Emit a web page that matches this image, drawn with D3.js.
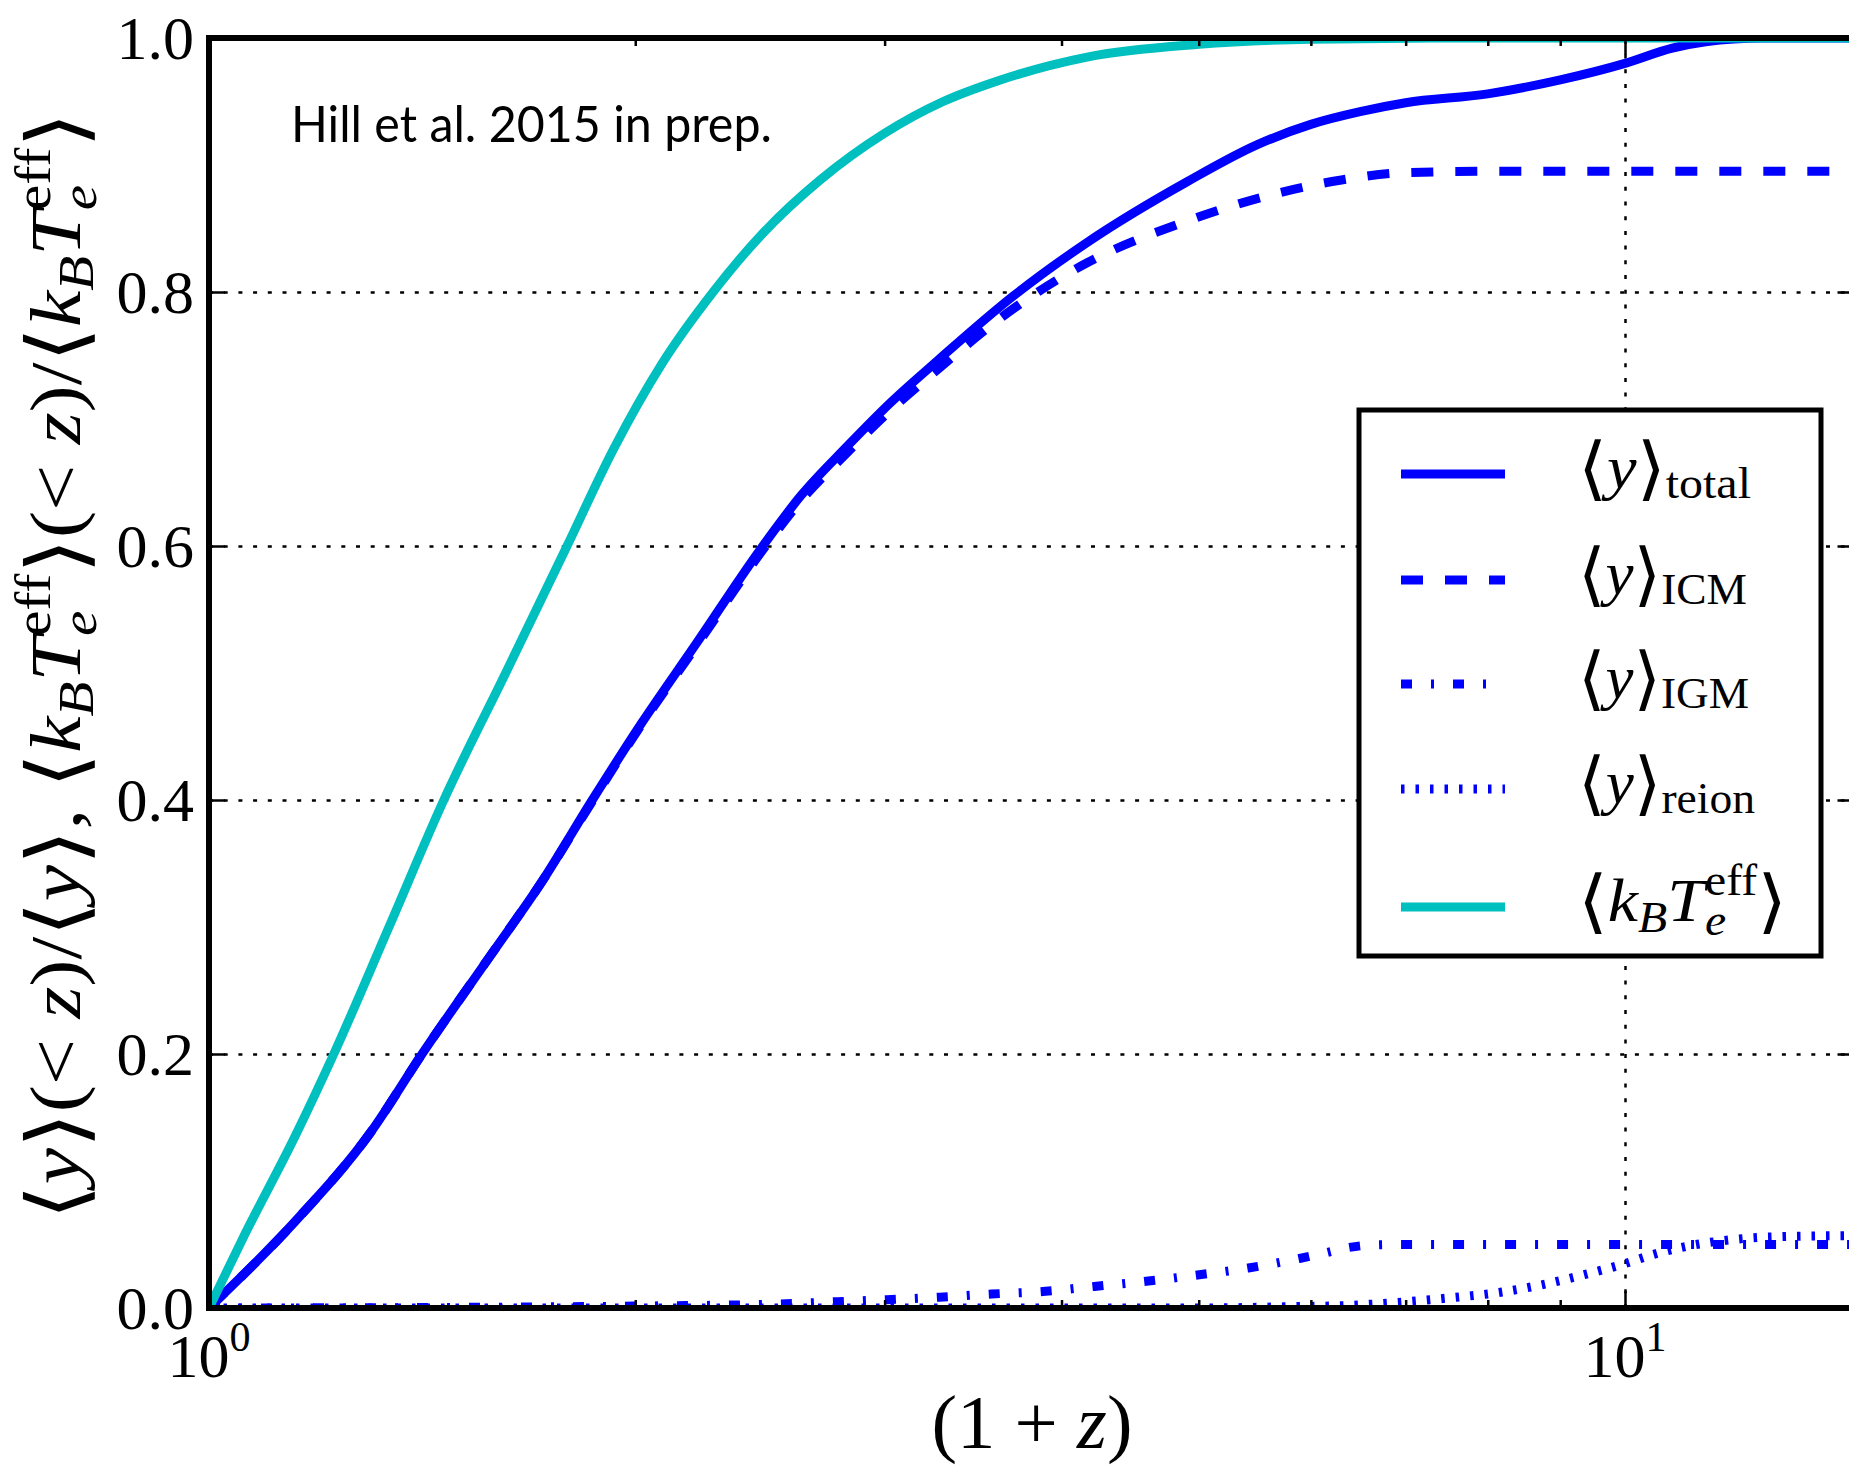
<!DOCTYPE html>
<html>
<head>
<meta charset="utf-8">
<script src="https://cdn.jsdelivr.net/npm/d3@7"></script>
<style>
  body { margin: 0; background: #fff; }
  svg { display: block; }
</style>
</head>
<body>
<script>
// curves, as [1+z, cumulative fraction]
const kTeff = [[1, 0], [1.06, 0.058], [1.15, 0.135], [1.225, 0.2], [1.34, 0.3], [1.465, 0.4],
  [1.62, 0.5], [1.79, 0.6], [1.93, 0.676], [2.09, 0.744], [2.27, 0.8], [2.46, 0.846], [2.7, 0.888],
  [3.0, 0.925], [3.3, 0.95], [3.6, 0.966], [4.17, 0.985], [5.0, 0.995], [6.0, 0.999], [7.5, 1.0], [14.5, 1.0]];
const yTotal = [[1, 0], [1.15, 0.068], [1.3, 0.138], [1.414, 0.2], [1.577, 0.276], [1.719, 0.336],
  [1.865, 0.4], [2.022, 0.461], [2.208, 0.523], [2.45, 0.597], [2.62, 0.64], [2.82, 0.678], [3.03, 0.713],
  [3.27, 0.746], [3.7, 0.797], [4.17, 0.839], [4.91, 0.887], [5.5, 0.916], [6.0, 0.932], [6.5, 0.942],
  [7.0, 0.949], [8.0, 0.956], [9.0, 0.967], [10, 0.98], [10.8, 0.992], [11.4, 0.997], [12.5, 1.0], [14.5, 1.0]];
const yICM = [[1, 0], [1.15, 0.068], [1.3, 0.138], [1.414, 0.2], [1.577, 0.276], [1.719, 0.336],
  [1.865, 0.399], [2.022, 0.46], [2.208, 0.521], [2.45, 0.594], [2.62, 0.636], [2.82, 0.673], [3.03, 0.707],
  [3.27, 0.739], [3.7, 0.787], [4.17, 0.823], [4.91, 0.856], [5.6, 0.876], [6.29, 0.888], [7.0, 0.894],
  [8.0, 0.895], [14.5, 0.895]];
const yIGM = [[1, 0], [1.5, 0.0005], [2.0, 0.0015], [2.5, 0.003], [2.78, 0.005], [3.01, 0.0065],
  [3.28, 0.0085], [3.57, 0.011], [3.88, 0.013], [4.22, 0.017], [4.59, 0.021], [4.99, 0.026],
  [5.42, 0.0315], [5.89, 0.039], [6.12, 0.043], [6.37, 0.0475], [6.6, 0.0495], [7.0, 0.05], [14.5, 0.05]];
const yReion = [[1, 0], [5.0, 0], [5.8, 0.001], [6.37, 0.002], [7.02, 0.005], [7.52, 0.008],
  [8.12, 0.012], [8.71, 0.018], [9.34, 0.026], [10, 0.035], [10.46, 0.042], [10.99, 0.048],
  [11.72, 0.053], [12.71, 0.056], [14.5, 0.057]];

const yTicks = [0, 0.2, 0.4, 0.6, 0.8, 1.0];
const xMajorTicks = [1, 10];
const xMinorTicks = [2, 3, 4, 5, 6, 7, 8, 9];
const xMax = 14.5;
const legendSubs = ["total", "ICM", "IGM", "reion"];
const note = "Hill et al. 2015 in prep.";

// --- layout ---
const W = 1849, H = 1468;
const plotLeft = 209, plotTop = 38, plotH = 1270, decade = 1416;
const plotRight = plotLeft + decade * Math.log10(xMax);
const plotBottom = plotTop + plotH;
const SERIF = "'Liberation Serif', 'Times New Roman', serif";
const BR = "'DejaVu Sans', sans-serif"; // has the angle brackets
const BLUE = "#0000ff", CYAN = "#00bfbf";

const x = d3.scaleLog().domain([1, xMax]).range([plotLeft, plotRight]);
const y = d3.scaleLinear().domain([0, 1]).range([plotBottom, plotTop]);

const svg = d3.select("body").append("svg").attr("width", W).attr("height", H);
svg.append("rect").attr("width", W).attr("height", H).attr("fill", "#fff");

// writes math-ish text as tspans; sh = baseline shift in em (down +), s = size factor
function mathText(text, parts, base) {
  let cur = 0;
  parts.forEach((p) => {
    const sh = (p.sh || 0) * base;
    const t = text.append("tspan").text(p.t)
      .attr("font-size", base * (p.s || 1))
      .attr("dy", sh - cur);
    if (p.i) t.attr("font-style", "italic");
    if (p.br) t.attr("font-family", BR);
    if (p.dx) t.attr("dx", p.dx * base);
    cur = sh;
  });
}
const LB = { t: "\u27e8", br: 1, s: 1.12, sh: 0.06 };
const RB = { t: "\u27e9", br: 1, s: 1.12, sh: 0.06 };
const kbt = [
  LB, { t: "k", i: 1 }, { t: "B", i: 1, s: 0.7, sh: 0.18 },
  { t: "T", i: 1 }, { t: "e", i: 1, s: 0.7, sh: 0.22 }, { t: "eff", s: 0.7, sh: -0.42, dx: -0.31 },
  RB,
];
const yb = [LB, { t: "y", i: 1 }, RB];

// --- grid ---
const gridStyle = (g) => {
  g.select(".domain").remove();
  g.selectAll("line").attr("stroke", "#000").attr("stroke-width", 2.5).attr("stroke-dasharray", "4 10.7");
};
svg.append("g").attr("transform", `translate(${plotLeft},0)`)
  .call(d3.axisLeft(y).tickValues(yTicks.slice(1, -1)).tickSize(-(plotRight - plotLeft)).tickFormat(""))
  .call(gridStyle);
svg.append("g").attr("transform", `translate(0,${plotBottom})`)
  .call(d3.axisBottom(x).tickValues(xMajorTicks.slice(1)).tickSize(-plotH).tickFormat(""))
  .call(gridStyle);

// --- curves ---
svg.append("clipPath").attr("id", "plot")
  .append("rect").attr("x", plotLeft).attr("y", plotTop).attr("width", plotRight - plotLeft).attr("height", plotH);
const line = d3.line().x((d) => x(d[0])).y((d) => y(d[1])).curve(d3.curveMonotoneX);
const series = [
  { data: yTotal, color: BLUE, dash: null },
  { data: yICM, color: BLUE, dash: "22 22" },
  { data: yIGM, color: BLUE, dash: "11 19 3 19" },
  { data: yReion, color: BLUE, dash: "3.5 11" },
  { data: kTeff, color: CYAN, dash: null },
];
svg.append("g").attr("clip-path", "url(#plot)")
  .selectAll("path").data(series).join("path")
  .attr("d", (d) => line(d.data))
  .attr("fill", "none")
  .attr("stroke", (d) => d.color)
  .attr("stroke-width", 9)
  .attr("stroke-linejoin", "round")
  .attr("stroke-dasharray", (d) => d.dash);

// --- ticks ---
const tickStyle = (g) => {
  g.select(".domain").remove();
  g.selectAll("line").attr("stroke", "#000").attr("stroke-width", 2.5);
};
const xAxes = [
  [d3.axisBottom, plotBottom],
  [d3.axisTop, plotTop],
];
xAxes.forEach(([ax, pos]) => {
  svg.append("g").attr("transform", `translate(0,${pos})`)
    .call(ax(x).tickValues(xMajorTicks).tickSize(-17).tickFormat("")).call(tickStyle);
  svg.append("g").attr("transform", `translate(0,${pos})`)
    .call(ax(x).tickValues(xMinorTicks).tickSize(-8).tickFormat("")).call(tickStyle);
});
svg.append("g").attr("transform", `translate(${plotRight},0)`)
  .call(d3.axisRight(y).tickValues(yTicks).tickSize(-16).tickFormat("")).call(tickStyle);

const yAxis = svg.append("g").attr("transform", `translate(${plotLeft},0)`)
  .call(d3.axisLeft(y).tickValues(yTicks).tickSize(-16).tickPadding(15).tickFormat(d3.format(".1f")))
  .call(tickStyle);
yAxis.selectAll("text").attr("font-family", SERIF).attr("font-size", 62).attr("fill", "#000").attr("dy", "0.33em");

// x tick labels as 10^n
svg.append("g").selectAll("text").data(xMajorTicks).join("text")
  .attr("x", (d) => x(d)).attr("y", 1377)
  .attr("text-anchor", "middle").attr("font-family", SERIF).attr("fill", "#000")
  .each(function (d) {
    mathText(d3.select(this), [{ t: "10" }, { t: String(Math.round(Math.log10(d))), s: 0.68, sh: -0.42 }], 62);
  });

// --- frame ---
svg.append("rect").attr("x", plotLeft).attr("y", plotTop).attr("width", plotRight - plotLeft).attr("height", plotH)
  .attr("fill", "none").attr("stroke", "#000").attr("stroke-width", 6);

// stretch text along its run so it covers the width measured on the figure
function fitRun(text, target, tx, ty, rot) {
  const w = text.node().getBBox().width;
  const s = target / w;
  text.attr("transform", `translate(${tx},${ty})${rot ? ` rotate(${rot})` : ""} scale(${s},1)`);
}

// --- axis labels ---
const xl = svg.append("text").attr("text-anchor", "middle").attr("font-family", SERIF).attr("fill", "#000");
mathText(xl, [{ t: "(1 + " }, { t: "z", i: 1 }, { t: ")" }], 76);
fitRun(xl, 201, 1032, 1448);

const yl = svg.append("text").attr("text-anchor", "middle").attr("font-family", SERIF).attr("fill", "#000");
mathText(yl, [
  ...yb, { t: "(< " }, { t: "z", i: 1 }, { t: ")/" }, ...yb, { t: ", " },
  ...kbt, { t: "(< " }, { t: "z", i: 1 }, { t: ")/" }, ...kbt,
], 72);
fitRun(yl, 1108, 80, 666, -90);

// --- note ---
const nt = svg.append("text").attr("font-family", "Lato, 'Open Sans', sans-serif")
  .attr("font-size", 51).attr("fill", "#000").text(note);
fitRun(nt, 481, 291, 142);

// --- legend ---
const lg = svg.append("g");
lg.append("rect").attr("x", 1359).attr("y", 410).attr("width", 462).attr("height", 546)
  .attr("fill", "#fff").attr("stroke", "#000").attr("stroke-width", 5);
const rowY = [474, 580, 684, 789, 907];
const labelW = [173, 169, 171, 177, 209];
series.forEach((s, i) => {
  lg.append("line").attr("x1", 1401).attr("x2", 1505).attr("y1", rowY[i]).attr("y2", rowY[i])
    .attr("stroke", s.color).attr("stroke-width", 9).attr("stroke-dasharray", s.dash);
  const t = lg.append("text").attr("font-family", SERIF).attr("fill", "#000");
  if (i < legendSubs.length) {
    mathText(t, [...yb, { t: legendSubs[i], s: 0.72, sh: 0.16 }], 62);
  } else {
    mathText(t, kbt, 62);
  }
  fitRun(t, labelW[i], 1578, rowY[i] + 14);
});
</script>
</body>
</html>
